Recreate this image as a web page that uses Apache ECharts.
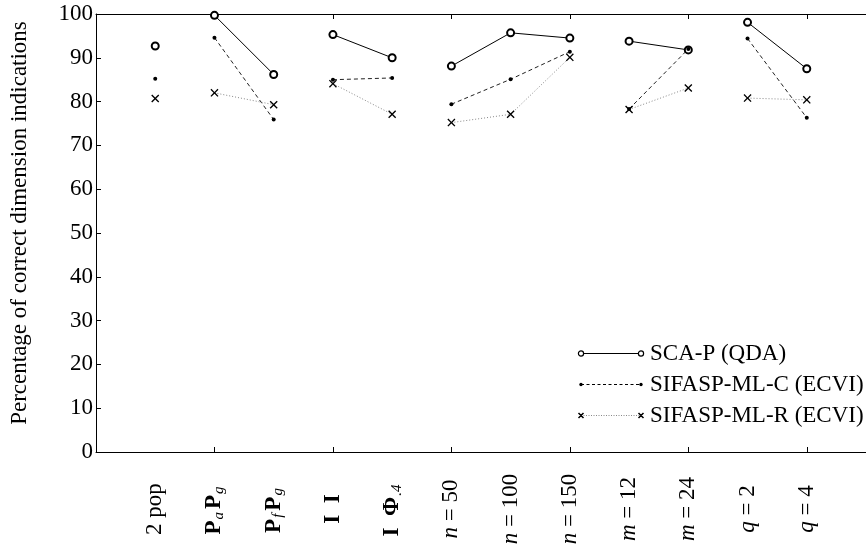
<!DOCTYPE html>
<html>
<head>
<meta charset="utf-8">
<script src="https://cdn.jsdelivr.net/npm/echarts@6/dist/echarts.min.js"></script>
<style>
html,body{margin:0;padding:0;background:#fff;}
#c{width:866px;height:553px;}
</style>
</head>
<body>
<div id="c"></div>
<script>
// ---- data ----
var categories = ['2 pop', '{b|P}{s|a}{b|P}{s|g}', '{b|P}{s|f}{b|P}{s|g}', '{b|I  I}', '{b|I  Φ}{s|.4}',
  '{i|n} = 50', '{i|n} = 100', '{i|n} = 150', '{i|m} = 12', '{i|m} = 24', '{i|q} = 2', '{i|q} = 4'];
var groups = [[0], [1, 2], [3, 4], [5, 6, 7], [8, 9], [10, 11]];
var seriesNames = ['SCA-P (QDA)', 'SIFASP-ML-C (ECVI)', 'SIFASP-ML-R (ECVI)'];
var scaP   = [92.7, 99.7, 86.2, 95.3, 90.0, 88.1, 95.7, 94.5, 93.8, 91.8, 98.1, 87.5];
var mlC    = [85.2, 94.6, 75.9, 85.0, 85.4, 79.4, 85.1, 91.4, 78.3, 92.0, 94.4, 76.3];
var mlR    = [80.7, 82.0, 79.3, 84.1, 77.1, 75.2, 77.1, 90.1, 78.2, 83.1, 80.8, 80.4];
var yTicks = [0, 10, 20, 30, 40, 50, 60, 70, 80, 90, 100];

// build series data with breaks between groups
function build(vals) {
  var out = [];
  groups.forEach(function (g, gi) {
    if (gi > 0) out.push([g[0] + 1, null]);
    g.forEach(function (i) { out.push([i + 1, vals[i]]); });
  });
  return out;
}
var FONT = 'Liberation Serif';
var FS = 23;
function svgIcon(inner) {
  var s = '<svg xmlns="http://www.w3.org/2000/svg" width="68" height="12" viewBox="0 0 68 12">' + inner + '</svg>';
  return 'image://data:image/svg+xml;charset=utf-8,' + encodeURIComponent(s);
}
var crossPath = 'path://M0,1.2 L1.2,0 L5,3.8 L8.8,0 L10,1.2 L6.2,5 L10,8.8 L8.8,10 L5,6.2 L1.2,10 L0,8.8 L3.8,5 Z';
var icons = [
  svgIcon('<line x1="6" y1="6" x2="62" y2="6" stroke="#000" stroke-width="1"/><circle cx="4" cy="6" r="2.6" fill="#fff" stroke="#000" stroke-width="1.2"/><circle cx="64" cy="6" r="2.6" fill="#fff" stroke="#000" stroke-width="1.2"/>'),
  svgIcon('<line x1="4" y1="6" x2="64" y2="6" stroke="#000" stroke-width="1" stroke-dasharray="3,2.5"/><circle cx="4" cy="6" r="1.7" fill="#000"/><circle cx="64" cy="6" r="1.7" fill="#000"/>'),
  svgIcon('<line x1="4" y1="6" x2="64" y2="6" stroke="#888" stroke-width="1" stroke-dasharray="1,1.5"/><path d="M1.5,3.5 L6.5,8.5 M6.5,3.5 L1.5,8.5 M61.5,3.5 L66.5,8.5 M66.5,3.5 L61.5,8.5" stroke="#000" stroke-width="1.5"/>')
];

var catData = [''].concat(categories).concat(['']);

var chart = echarts.init(document.getElementById('c'), null, {renderer: 'canvas'});
var option = {
  animation: false,
  backgroundColor: '#fff',
  textStyle: {fontFamily: FONT, color: '#000'},
  grid: {left: 92, top: 14, width: 780, height: 438, containLabel: false},
  legend: {
    orient: 'vertical',
    left: 572, top: 337,
    itemWidth: 68, itemHeight: 12, itemGap: 8,
    textStyle: {fontFamily: FONT, fontSize: FS, color: '#000'},
    data: seriesNames.map(function (n, i) { return {name: n, icon: icons[i]}; })
  },
  xAxis: [
    {
      type: 'category', position: 'bottom', boundaryGap: false, data: catData,
      axisLine: {lineStyle: {color: '#000', width: 1}},
      axisTick: {inside: true, length: 5, lineStyle: {color: '#000'},
        interval: function (idx) { return idx % 2 === 0 && idx > 0 && idx < 13; }},
      axisLabel: {
        interval: function (idx) { return idx > 0 && idx < 13; },
        rotate: 90, align: 'center', verticalAlign: 'middle', margin: 57,
        fontFamily: FONT, fontSize: FS, color: '#000',
        rich: {
          b: {fontFamily: FONT, fontSize: FS, fontWeight: 'bold', color: '#000'},
          s: {fontFamily: FONT, fontSize: 15, fontStyle: 'italic', color: '#000', verticalAlign: 'bottom', padding: [9, 3, 0, 1]},
          i: {fontFamily: FONT, fontSize: FS, fontStyle: 'italic', color: '#000'}
        }
      },
      splitLine: {show: false}
    },
    {
      type: 'value', position: 'top', min: 0, max: 13, interval: 2,
      axisLine: {lineStyle: {color: '#000', width: 1}},
      axisTick: {inside: true, length: 5, lineStyle: {color: '#000'}},
      axisLabel: {show: false},
      splitLine: {show: false}
    }
  ],
  yAxis: {
    type: 'value', min: 0, max: 100, interval: 10,
    name: 'Percentage of correct dimension indications',
    nameLocation: 'middle', nameGap: 65, nameRotate: 90,
    nameTextStyle: {fontFamily: FONT, fontSize: FS, color: '#000', padding: [0, 0, 0, 20]},
    axisLine: {show: true, lineStyle: {color: '#000', width: 1}},
    axisTick: {show: true, inside: true, length: 5, lineStyle: {color: '#000'}},
    axisLabel: {fontFamily: FONT, fontSize: FS, color: '#000', margin: 3,
      formatter: function (v) { return yTicks.indexOf(v) >= 0 ? String(v) : ''; }},
    splitLine: {show: false}
  },
  series: [
    {
      name: seriesNames[0], type: 'line', xAxisIndex: 1, data: build(scaP), connectNulls: false,
      symbol: 'emptyCircle', symbolSize: 7, showAllSymbol: true,
      lineStyle: {color: '#000', width: 1, type: 'solid'},
      itemStyle: {color: '#000', borderColor: '#000', borderWidth: 1.4}
    },
    {
      name: seriesNames[1], type: 'line', xAxisIndex: 1, data: build(mlC), connectNulls: false,
      symbol: 'circle', symbolSize: 4, showAllSymbol: true,
      lineStyle: {color: '#222', width: 1, type: [4, 3]},
      itemStyle: {color: '#000'}
    },
    {
      name: seriesNames[2], type: 'line', xAxisIndex: 1, data: build(mlR), connectNulls: false,
      symbol: crossPath, symbolSize: 8, showAllSymbol: true,
      lineStyle: {color: '#888', width: 1, type: [1, 2]},
      itemStyle: {color: '#000'}
    }
  ]
};
chart.setOption(option);
</script>
</body>
</html>
